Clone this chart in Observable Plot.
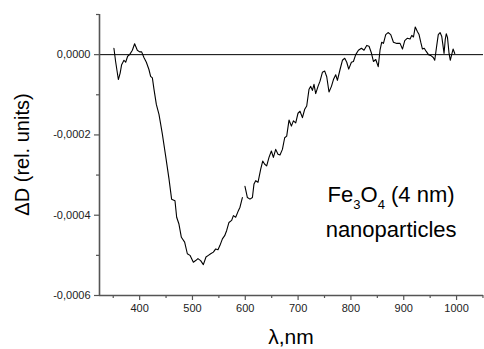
<!DOCTYPE html>
<html><head><meta charset="utf-8">
<script src="https://cdn.jsdelivr.net/npm/d3@7"></script>
<script src="https://cdn.jsdelivr.net/npm/@observablehq/plot@0.6"></script>
<style>body{margin:0;background:#fff;} svg{display:block}</style>
</head><body><div id="chart"></div>
<script>
// Segment A (short-wavelength detector), λ in nm, ΔD in rel. units
const wavelengthA = [351.3,354.5,359.7,363.1,365.9,370.3,373.5,377.3,381.1,386.2,390.5,395.6,400,403.8,408.1,412.7,417.6,420.8,424.1,427.1,431.6,436.6,439.8,443.0,449.2,455.5,460.5,466.9,470.1,474.4,479.0,485.2,490.3,495.3,501.7,506.1,510.4,515.5,520.6,525.6,530.1,534.5,539.6,544.0,548.3,552.1,556.7,561.0,564.8,569.1,574.2,577.5,581.8,586.2,590.0,594.5];
const deltaA = [0.16e-4,-0.17e-4,-0.62e-4,-0.46e-4,-0.25e-4,-0.14e-4,-0.19e-4,-0.04e-4,0,0.11e-4,0.27e-4,0.11e-4,0.07e-4,0.07e-4,-0.07e-4,-0.19e-4,-0.37e-4,-0.54e-4,-0.58e-4,-0.86e-4,-1.24e-4,-1.49e-4,-1.73e-4,-1.98e-4,-2.52e-4,-3.09e-4,-3.60e-4,-3.64e-4,-4.05e-4,-4.22e-4,-4.55e-4,-4.67e-4,-4.96e-4,-5.00e-4,-5.17e-4,-5.13e-4,-5.08e-4,-5.13e-4,-5.23e-4,-5.04e-4,-5.00e-4,-4.96e-4,-4.92e-4,-4.84e-4,-4.86e-4,-4.75e-4,-4.59e-4,-4.51e-4,-4.38e-4,-4.18e-4,-4.13e-4,-4.01e-4,-4.05e-4,-3.91e-4,-3.80e-4,-3.56e-4];
// Segment B (long-wavelength detector)
const wavelengthB = [599.4,604.0,608.9,613.5,616.5,619.7,624.1,629.2,633.0,636.8,640.5,644.9,649.4,653.2,657.6,661.9,665.7,670.3,674.6,678.4,682.8,687.3,691.1,695.5,699.8,703.6,708.2,712.5,716.3,720.7,723.9,727.1,730.1,733.3,737.7,741.5,746.0,750.4,754.2,758.5,763.1,766.9,771.2,774.4,779.4,783.9,788.3,792.1,795.8,800.9,804.7,809.1,814.2,819.9,824.8,829.9,834.3,838.8,842.6,847.0,851.7,855.1,858.3,861.6,865.9,870.3,875.4,880.5,886.8,893.0,897.6,901.9,907.0,912.0,915.2,918.4,921.8,926.0,929.0,932.2,935.4,938.8,942.6,946.8,952.1,955.9,958.7,962.5,965.4,968.8,972.0,974.8,976.3,978.6,980.5,982.8,985.8,988.1,990.4,993.4,996.6];
const deltaB = [-3.28e-4,-3.56e-4,-3.60e-4,-3.56e-4,-3.22e-4,-3.14e-4,-3.18e-4,-2.85e-4,-2.65e-4,-2.73e-4,-2.77e-4,-2.56e-4,-2.40e-4,-2.56e-4,-2.36e-4,-2.48e-4,-2.50e-4,-2.36e-4,-2.07e-4,-2.03e-4,-1.63e-4,-1.78e-4,-1.65e-4,-1.70e-4,-1.46e-4,-1.41e-4,-1.57e-4,-1.36e-4,-1.28e-4,-0.86e-4,-0.79e-4,-0.89e-4,-0.74e-4,-0.97e-4,-0.79e-4,-0.66e-4,-0.44e-4,-0.41e-4,-0.55e-4,-0.93e-4,-0.79e-4,-0.62e-4,-0.50e-4,-0.64e-4,-0.37e-4,-0.14e-4,-0.09e-4,-0.19e-4,-0.36e-4,-0.19e-4,-0.17e-4,0,0.11e-4,0.16e-4,0.11e-4,0.23e-4,0.21e-4,0.04e-4,-0.17e-4,-0.12e-4,-0.30e-4,0.11e-4,0.31e-4,0.28e-4,0.50e-4,0.55e-4,0.50e-4,0.31e-4,0.28e-4,0.28e-4,0.14e-4,0.35e-4,0.41e-4,0.39e-4,0.48e-4,0.44e-4,0.69e-4,0.57e-4,0.50e-4,0.31e-4,0.14e-4,0.16e-4,0.08e-4,0,-0.03e-4,-0.07e-4,-0.14e-4,0.23e-4,0.50e-4,0.55e-4,0.45e-4,0.18e-4,0.03e-4,0.38e-4,0.52e-4,0.43e-4,0.03e-4,-0.14e-4,-0.02e-4,0.14e-4,0.03e-4];

const xDomain = [324, 1051];
const yDomain = [-0.0006, 0.0001];
const xMajorTicks = [400,500,600,700,800,900,1000];
const xMinorTicks = [350,450,550,650,750,850,950,1050];
const yMajorTicks = [-0.0006,-0.0004,-0.0002,0];
const yMinorTicks = [-0.0005,-0.0003,-0.0001,0.0001];
const xTitle = "λ,nm";
const yTitle = "ΔD (rel. units)";
const noteWavelength = 877;
const noteLevels = [-3.68e-4, -4.55e-4];
const noteLine2 = "nanoparticles";

const segA = wavelengthA.map((w, i) => ({w, d: deltaA[i]}));
const segB = wavelengthB.map((w, i) => ({w, d: deltaB[i]}));
const fmt = d => d.toFixed(4).replace(".", ",");
const axisColor = "#555";
const font = "'Liberation Sans', Arial, sans-serif";

const plot = Plot.plot({
  width: 484, height: 349,
  marginLeft: 99, marginRight: 1, marginTop: 14, marginBottom: 54,
  style: {fontFamily: font, background: "#fff", color: "#222"},
  x: {domain: xDomain},
  y: {domain: yDomain},
  marks: [
    Plot.axisX(xMajorTicks, {tickSize: 5, tickPadding: 4, fontSize: 11, tickFormat: d => String(d), label: null, stroke: axisColor, strokeWidth: 1.2, fill: "#222"}),
    Plot.axisX(xMinorTicks, {tickSize: 3, tickFormat: () => "", label: null, stroke: axisColor, strokeWidth: 1.2}),
    Plot.axisY(yMajorTicks, {tickSize: 5, tickPadding: 4, fontSize: 11, tickFormat: fmt, label: null, stroke: axisColor, strokeWidth: 1.2, fill: "#222"}),
    Plot.axisY(yMinorTicks, {tickSize: 3, tickFormat: () => "", label: null, stroke: axisColor, strokeWidth: 1.2}),
    Plot.ruleY([0], {stroke: "#000", strokeWidth: 1}),
    Plot.ruleX([xDomain[0]], {y1: yDomain[0], y2: yDomain[1], stroke: axisColor, strokeWidth: 1.6}),
    Plot.ruleY([yDomain[0]], {stroke: axisColor, strokeWidth: 1.6}),
    Plot.line(segA, {x: "w", y: "d", stroke: "#000", strokeWidth: 1.1}),
    Plot.line(segB, {x: "w", y: "d", stroke: "#000", strokeWidth: 1.1})
  ]
});

const svg = d3.select(plot);
const xs = plot.scale("x"), ys = plot.scale("y");
const cx = (xs.range[0] + xs.range[1]) / 2;
const cy = (ys.range[0] + ys.range[1]) / 2;

svg.append("text")
  .attr("transform", `translate(22,${cy}) rotate(-90)`)
  .attr("text-anchor", "middle").attr("dominant-baseline", "central")
  .attr("font-size", 20).attr("fill", "#000").text(yTitle);

svg.append("text")
  .attr("x", cx).attr("y", 344)
  .attr("text-anchor", "middle")
  .attr("font-size", 21).attr("fill", "#000").text(xTitle);

const nx = xs.apply(noteWavelength);
const t1 = svg.append("text").attr("x", nx).attr("y", ys.apply(noteLevels[0]))
  .attr("text-anchor", "middle").attr("font-size", 22).attr("fill", "#000");
t1.append("tspan").text("Fe");
t1.append("tspan").attr("dy", 7).attr("font-size", 13).text("3");
t1.append("tspan").attr("dy", -7).text("O");
t1.append("tspan").attr("dy", 7).attr("font-size", 13).text("4");
t1.append("tspan").attr("dy", -7).text(" (4 nm)");
svg.append("text").attr("x", nx).attr("y", ys.apply(noteLevels[1]))
  .attr("text-anchor", "middle").attr("font-size", 22).attr("fill", "#000").text(noteLine2);

document.getElementById("chart").appendChild(plot);
</script>
</body></html>
